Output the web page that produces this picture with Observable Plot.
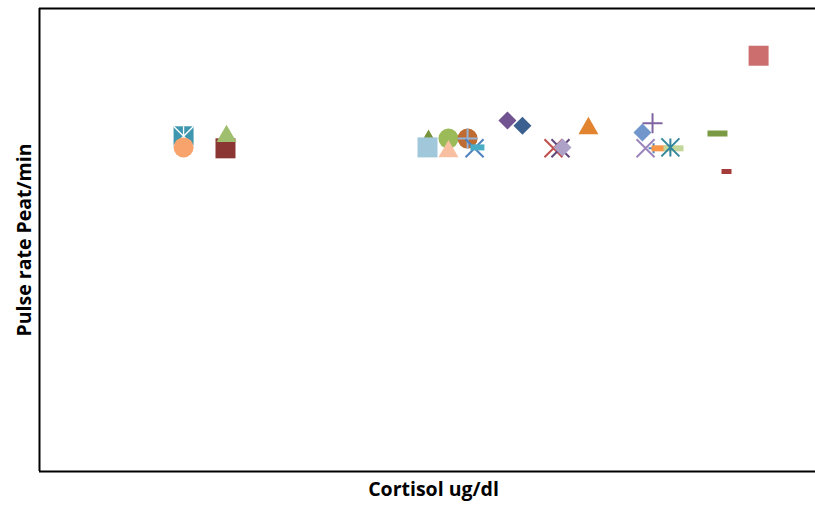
<!DOCTYPE html>
<html>
<head>
<meta charset="utf-8">
<script src="https://cdn.jsdelivr.net/npm/d3@7"></script>
<script src="https://cdn.jsdelivr.net/npm/@observablehq/plot@0.6"></script>
<style>
  html, body { margin: 0; padding: 0; background: #fff; }
  #chart svg { display: block; }
</style>
</head>
<body>
<div id="chart"></div>
<script>
// ---- data (axes carry no tick labels) ----
const xLabel = "Cortisol ug/dl";
const yLabel = "Pulse rate Peat/min";
const cortisol = [5.57, 5.57, 5.57, 7.19, 7.23, 15.04, 15.00, 15.81, 15.81, 16.55, 16.55, 16.82, 16.93,
                  18.09, 18.67, 19.87, 20.14, 20.22, 21.22, 23.31, 23.70, 23.43, 23.74, 23.97, 24.51, 24.39,
                  26.21, 26.56, 27.80];
const pulse    = [72.4, 72.4, 70.0, 69.8, 72.4, 72.6, 70.0, 71.9, 69.1, 71.9, 71.9, 69.8, 70.0,
                  75.8, 74.7, 69.8, 69.8, 70.0, 74.1, 73.2, 75.2, 69.8, 69.8, 69.8, 69.8, 70.0,
                  73.0, 64.8, 89.8];

// ---- marker styles (one per point, same order) ----
const shapes = ["square", "asterisk", "circle", "square", "triangle", "triangle", "square", "circle", "triangle",
                "circle", "plus", "x", "dash", "diamond", "diamond", "x", "x", "diamond", "triangle",
                "diamond", "plus", "x", "plus", "dash", "dash", "asterisk", "dash", "dashS", "square"];
const colors = ["#3E97AF", "#ffffff", "#F8A26C", "#8C3634", "#A0BF6E", "#77933C", "#A0C8DA", "#9BBB59", "#F9BFA1",
                "#BE6C31", "#95B3D7", "#4F81BD", "#4BACC6", "#705390", "#3B5F8E", "#C0504D", "#604A7B", "#ADA1C8", "#E2832F",
                "#7196CC", "#8064A2", "#9B85BC", "#4F81BD", "#F79646", "#C3D69B", "#31859C", "#7A9B43", "#A33C3A", "#CC6E6E"];
const sizes  = [10, 10, 10, 10, 10, 5, 10, 10, 10,
                10, 10, 9, 7, 9, 9, 9, 9, 9, 10,
                9, 10, 9, 5, 8, 10, 9, 10, 5, 10];

// ---- custom marker geometry ----
const R = s => Math.sqrt(s / Math.PI);
const sym = {
  square:   {draw(c, s) { const h = R(s); c.rect(-h, -h, 2 * h, 2 * h); }},
  diamond:  {draw(c, s) { const h = R(s); c.moveTo(0, -h); c.lineTo(h, 0); c.lineTo(0, h); c.lineTo(-h, 0); c.closePath(); }},
  triangle: {draw(c, s) { const h = R(s), t = h * Math.sqrt(3); c.moveTo(0, -2 * t / 3); c.lineTo(h, t / 3); c.lineTo(-h, t / 3); c.closePath(); }},
  x:        {draw(c, s) { const h = R(s); c.moveTo(-h, -h); c.lineTo(h, h); c.moveTo(h, -h); c.lineTo(-h, h); }},
  plus:     {draw(c, s) { const h = R(s); c.moveTo(-h, 0); c.lineTo(h, 0); c.moveTo(0, -h); c.lineTo(0, h); }},
  asterisk: {draw(c, s) { const h = R(s); c.moveTo(-h, -h); c.lineTo(h, h); c.moveTo(h, -h); c.lineTo(-h, h); c.moveTo(0, -h); c.lineTo(0, h); }},
  dash:     {draw(c, s) { const h = R(s); c.rect(-h, -3, 2 * h, 6); }},
  dashS:    {draw(c, s) { const h = R(s); c.rect(-h, -2.5, 2 * h, 5); }}
};
const strokeOnly = new Set(["x", "plus", "asterisk"]);

const marks = [
  Plot.ruleX([0], {stroke: "#000", strokeWidth: 2}),
  Plot.ruleY([0, 100], {stroke: "#000", strokeWidth: 2})
];
d3.range(cortisol.length).forEach(i => {
  const shp = shapes[i], col = colors[i];
  const opts = {x: j => cortisol[j], y: j => pulse[j], r: sizes[i]};
  if (shp === "circle") {
    opts.symbol = "circle"; opts.fill = col; opts.stroke = "none";
  } else if (strokeOnly.has(shp)) {
    opts.symbol = sym[shp]; opts.fill = "none"; opts.stroke = col;
    opts.strokeWidth = (i === 1) ? 1.3 : 2;
  } else {
    opts.symbol = sym[shp]; opts.fill = col; opts.stroke = "none";
  }
  marks.push(Plot.dot([i], opts));
});
marks.push(
  Plot.text([xLabel], {frameAnchor: "bottom", textAnchor: "middle", dy: 24, dx: 6, text: d => d, fontSize: 19.5, fontWeight: "bold", fill: "#000"}),
  Plot.text([yLabel], {frameAnchor: "left", textAnchor: "middle", dx: -15, rotate: -90, text: d => d, fontSize: 19.5, fontWeight: "bold", fill: "#000"})
);

const chart = Plot.plot({
  width: 815,
  height: 506,
  marginLeft: 39,
  marginRight: 0,
  marginTop: 8,
  marginBottom: 35,
  x: {domain: [0, 30], axis: null},
  y: {domain: [0, 100], axis: null},
  style: {fontFamily: "'Open Sans', 'Liberation Sans', sans-serif", background: "#fff"},
  marks
});
document.getElementById("chart").appendChild(chart);
</script>
</body>
</html>
